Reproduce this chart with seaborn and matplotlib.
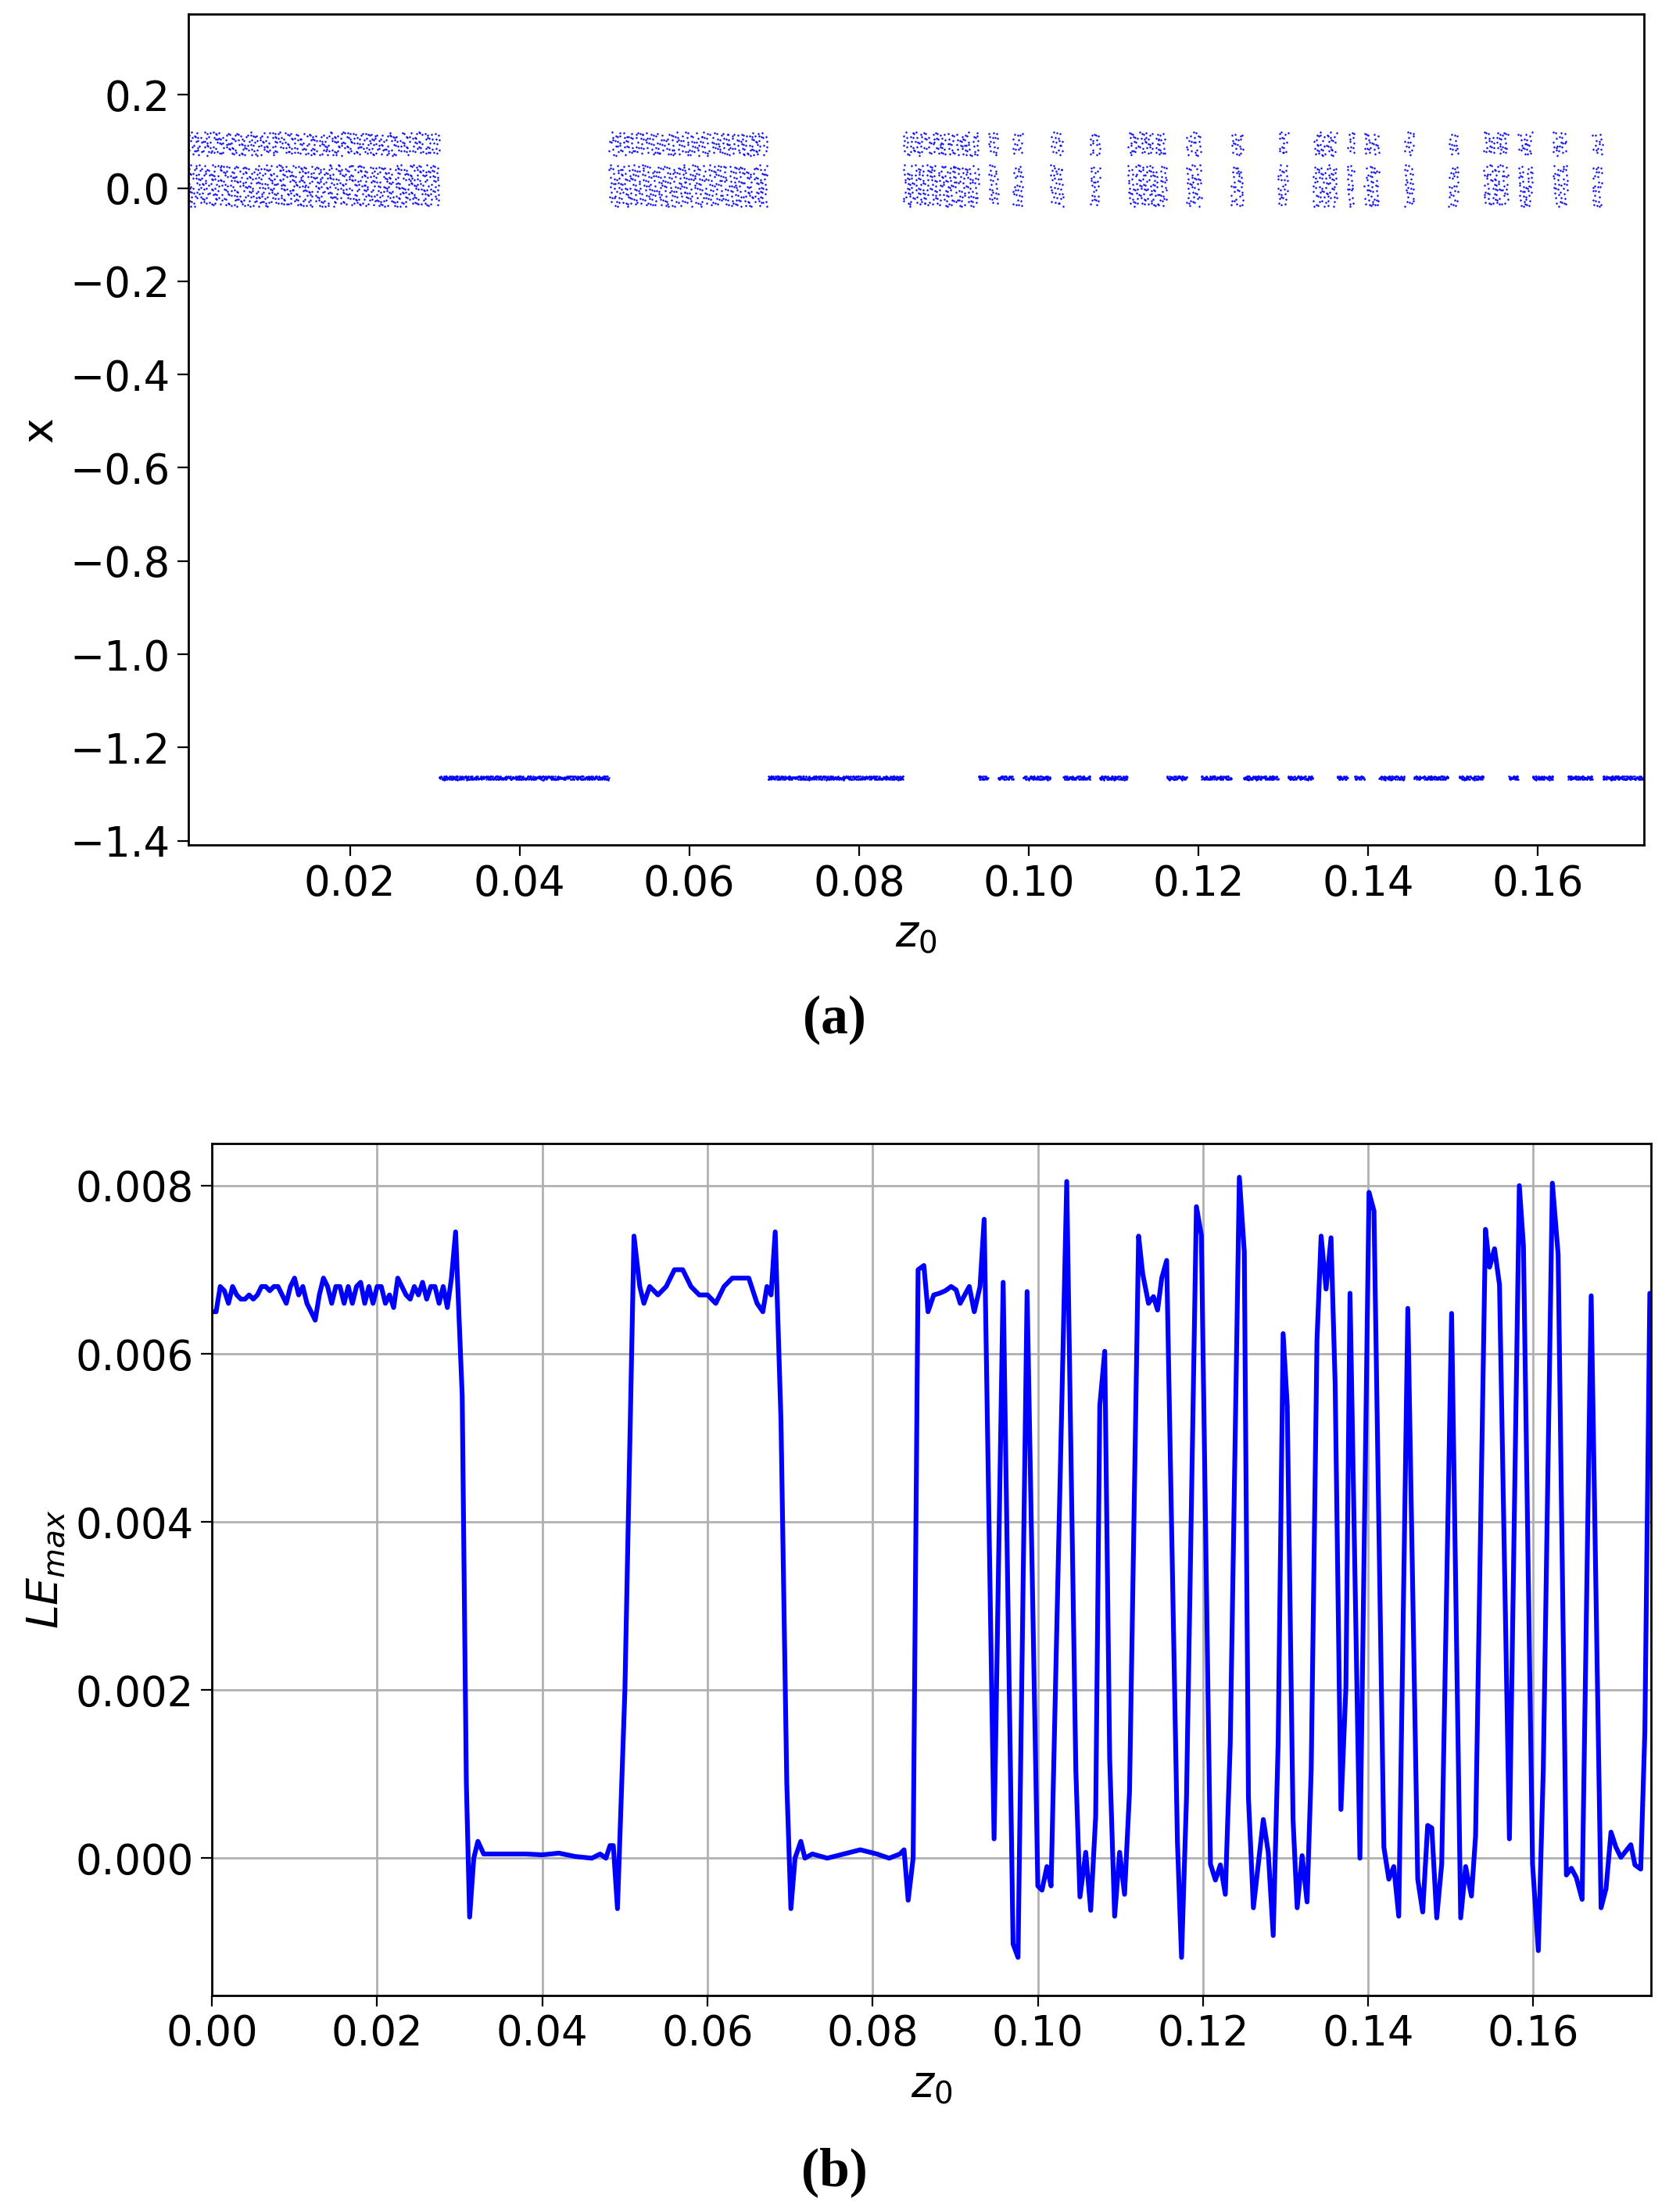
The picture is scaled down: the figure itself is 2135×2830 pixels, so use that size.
import numpy as np
import pandas as pd
import matplotlib
matplotlib.use("Agg")
import matplotlib.pyplot as plt
import seaborn as sns

# z0 samples and largest Lyapunov exponent
z0 = [0.0000,0.0005,0.0010,0.0015,0.0020,0.0025,0.0030,0.0035,0.0040,0.0045,0.0050,0.0055,0.0060,0.0065,0.0070,0.0075,
      0.0080,0.0085,0.0090,0.0095,0.0100,0.0105,0.0110,0.0115,0.0120,0.0125,0.0130,0.0135,0.0140,0.0145,0.0150,0.0155,
      0.0160,0.0165,0.0170,0.0175,0.0180,0.0185,0.0190,0.0195,0.0200,0.0205,0.0210,0.0215,0.0220,0.0225,0.0230,0.0235,
      0.0240,0.0245,0.0250,0.0255,0.0260,0.0265,0.0270,0.0275,0.0280,0.0285,0.0290,0.0295,0.0303,0.0308,0.0312,0.0317,
      0.0322,0.0329,0.0340,0.0360,0.0380,0.0400,0.0420,0.0440,0.0460,0.0470,0.0477,0.0482,0.0486,0.0491,0.0500,0.0511,
      0.0518,0.0523,0.0530,0.0540,0.0550,0.0560,0.0570,0.0580,0.0590,0.0600,0.0610,0.0620,0.0630,0.0640,0.0650,0.0660,
      0.0667,0.0672,0.0677,0.0682,0.0689,0.0696,0.0701,0.0706,0.0713,0.0718,0.0727,0.0745,0.0765,0.0785,0.0805,0.0820,
      0.0833,0.0838,0.0843,0.0849,0.0855,0.0862,0.0867,0.0874,
      0.0881,0.0888,0.0895,0.0901,0.0906,0.0917,0.0923,0.0930,0.0935,0.0947,0.0958,0.0970,0.0976,0.0987,0.1000,0.1005,
      0.1011,0.1016,0.1035,0.1046,0.1051,0.1058,0.1064,0.1070,0.1075,0.1081,0.1087,0.1093,0.1099,0.1105,0.1111,0.1122,
      0.1127,0.1134,0.1140,0.1145,0.1150,0.1156,0.1169,0.1174,0.1180,0.1192,0.1198,0.1209,0.1215,0.1221,0.1227,0.1233,
      0.1244,0.1250,0.1255,0.1261,0.1273,0.1279,0.1285,0.1291,0.1297,0.1302,0.1309,0.1314,0.1320,0.1326,0.1331,0.1338,
      0.1343,0.1349,0.1355,0.1360,0.1367,0.1373,0.1378,0.1390,0.1401,0.1407,0.1419,0.1425,0.1431,0.1437,0.1448,0.1460,
      0.1466,0.1472,0.1477,0.1483,0.1489,0.1501,0.1512,0.1518,0.1525,0.1530,0.1542,0.1547,0.1553,0.1559,0.1571,0.1583,
      0.1588,0.1599,0.1606,0.1612,0.1623,0.1630,0.1640,0.1646,0.1652,0.1659,0.1670,0.1682,0.1688,0.1694,0.1700,0.1706,
      0.1718,0.1723,0.1730,0.1735,0.1741]
le_max = [0.00650,0.00650,0.00680,0.00675,0.00660,0.00680,0.00670,0.00665,0.00665,0.00670,0.00665,0.00670,0.00680,0.00680,0.00675,0.00680,
          0.00680,0.00670,0.00660,0.00680,0.00690,0.00670,0.00680,0.00660,0.00650,0.00640,0.00670,0.00690,0.00680,0.00660,0.00680,0.00680,
          0.00660,0.00680,0.00660,0.00680,0.00685,0.00660,0.00680,0.00660,0.00680,0.00680,0.00660,0.00670,0.00655,0.00690,0.00680,0.00670,
          0.00665,0.00680,0.00670,0.00685,0.00665,0.00680,0.00680,0.00660,0.00680,0.00655,0.00690,0.00745,0.00550,0.00090,-0.00070,0.00000,
          0.00020,0.00005,0.00005,0.00005,0.00005,0.00004,0.00006,0.00002,0.00000,0.00005,0.00000,0.00015,0.00015,-0.00060,0.00200,0.00740,
          0.00680,0.00660,0.00680,0.00670,0.00680,0.00700,0.00700,0.00680,0.00670,0.00670,0.00660,0.00680,0.00690,0.00690,0.00690,0.00660,
          0.00650,0.00680,0.00670,0.00745,0.00520,0.00090,-0.00060,0.00000,0.00020,0.00000,0.00005,0.00000,0.00005,0.00010,0.00005,0.00000,
          0.00005,0.00010,-0.00050,0.00000,0.00700,0.00705,0.00650,0.00670,
          0.00672,0.00675,0.00680,0.00676,0.00660,0.00680,0.00650,0.00680,0.00760,0.00023,0.00685,-0.00102,-0.00118,0.00674,-0.00033,-0.00038,
          -0.00010,-0.00033,0.00805,0.00105,-0.00046,0.00007,-0.00062,0.00049,0.00538,0.00603,0.00118,-0.00069,0.00007,-0.00043,0.00079,0.00740,
          0.00695,0.00660,0.00668,0.00652,0.00690,0.00711,0.00020,-0.00118,0.00072,0.00775,0.00741,-0.00007,-0.00026,-0.00008,-0.00043,0.00138,
          0.00810,0.00721,0.00072,-0.00059,0.00046,0.00007,-0.00092,0.00138,0.00624,0.00538,0.00046,-0.00059,0.00003,-0.00052,0.00105,0.00616,
          0.00740,0.00677,0.00738,0.00564,0.00058,0.00203,0.00672,0.00000,0.00792,0.00770,0.00013,-0.00025,-0.00010,-0.00069,0.00654,-0.00025,
          -0.00064,0.00039,0.00036,-0.00071,-0.00007,0.00648,-0.00071,-0.00010,-0.00045,0.00026,0.00748,0.00703,0.00725,0.00682,0.00023,0.00800,
          0.00728,-0.00007,-0.00110,0.00105,0.00803,0.00718,-0.00020,-0.00012,-0.00023,-0.00049,0.00669,-0.00059,-0.00036,0.00031,0.00013,0.00001,
          0.00016,-0.00008,-0.00013,0.00151,0.00672]

# attractor bands for panel a
band_upper = (0.07, 0.12)
band_lower = (-0.04, 0.05)
regular_x = -1.265
chaos_threshold = 0.003

z = np.array(z0); le = np.array(le_max)

edges = np.concatenate([[z[0]], (z[1:] + z[:-1]) / 2, [z[-1] + 0.0004]])
phi = (np.sqrt(5) - 1) / 2
px, py = [], []
k = 0
for i in range(len(z)):
    a, b = edges[i], edges[i + 1]
    n = int((b - a) / 0.17 * 12000) + 5
    idx = np.arange(k, k + n); k += n
    u = (idx * phi) % 1.0
    v = (idx * 0.7548776662) % 1.0
    xs = a + u * (b - a)
    if le[i] > chaos_threshold:
        up = v < 0.36
        ys = np.where(up, band_upper[0] + (v / 0.36) * (band_upper[1] - band_upper[0]),
                      band_lower[0] + ((v - 0.36) / 0.64) * (band_lower[1] - band_lower[0]))
        keep = ((idx * 0.5698402909) % 1.0) < 0.5
    else:
        ys = regular_x + (v - 0.5) * 0.008
        keep = ((idx * 0.5698402909) % 1.0) < 0.35
    px.append(xs[keep]); py.append(ys[keep])
dfa = pd.DataFrame({"z0": np.concatenate(px), "x": np.concatenate(py)})
dfb = pd.DataFrame({"z0": z, "le": le})

sns.set_style("white")
plt.rcParams['font.family'] = ['DejaVu Sans']
plt.rcParams['text.color'] = 'black'
plt.rcParams['axes.labelcolor'] = 'black'
plt.rcParams['xtick.color'] = 'black'
plt.rcParams['ytick.color'] = 'black'
fig = plt.figure(figsize=(10.675, 14.15), dpi=200)

ax1 = fig.add_axes([0.113, 0.618, 0.872, 0.3756])
sns.scatterplot(data=dfa, x="z0", y="x", ax=ax1, s=0.8, color="blue", edgecolor=None, linewidth=0, legend=False)
ax1.set_xlim(0.001, 0.1725)
ax1.set_ylim(-1.409, 0.373)
ax1.set_xticks([0.02, 0.04, 0.06, 0.08, 0.10, 0.12, 0.14, 0.16])
ax1.set_yticks([0.2, 0.0, -0.2, -0.4, -0.6, -0.8, -1.0, -1.2, -1.4])
ax1.set_xlabel("$z_0$", fontsize=20)
ax1.set_ylabel("x", fontsize=20)
ax1.tick_params(labelsize=19, left=True, bottom=True, length=5)
for s in ax1.spines.values():
    s.set_color("black"); s.set_linewidth(1.0)

ax2 = fig.add_axes([0.127, 0.098, 0.862, 0.385])
sns.lineplot(data=dfb, x="z0", y="le", ax=ax2, color="blue", linewidth=2.2)
ax2.set_xlim(0.0, 0.1742)
ax2.set_ylim(-0.00163, 0.0085)
ticks_b = [0.00, 0.02, 0.04, 0.06, 0.08, 0.10, 0.12, 0.14, 0.16]
ax2.set_xticks(ticks_b)
ax2.set_xticklabels([f"{t:.2f}" for t in ticks_b])
yt = [0.000, 0.002, 0.004, 0.006, 0.008]
ax2.set_yticks(yt)
ax2.set_yticklabels([f"{t:.3f}" for t in yt])
ax2.grid(True, color="#b0b0b0", linewidth=1.0)
ax2.set_xlabel("$z_0$", fontsize=20)
ax2.set_ylabel("$LE_{max}$", fontsize=20)
ax2.tick_params(labelsize=19, left=True, bottom=True, length=5)
for s in ax2.spines.values():
    s.set_color("black"); s.set_linewidth(1.0)

fig.text(0.5, 0.539, "(a)", ha="center", va="center", fontsize=25, fontweight="bold", family="Liberation Serif")
fig.text(0.5, 0.018, "(b)", ha="center", va="center", fontsize=25, fontweight="bold", family="Liberation Serif")

fig.savefig("out.png", dpi=200)
